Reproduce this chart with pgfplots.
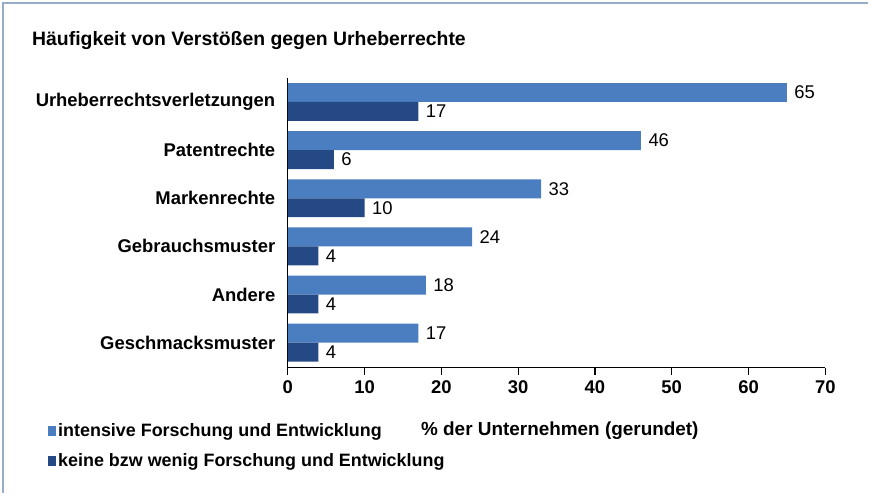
\documentclass[border=0pt]{standalone}
\usepackage{pgfplots}
\pgfplotsset{compat=1.18}
\usepackage{fontspec}
\setmainfont{Liberation Sans}
\definecolor{lightb}{RGB}{74,126,193}
\definecolor{darkb}{RGB}{37,73,132}
\definecolor{framec}{RGB}{150,172,200}
\pgfplotsset{/pgf/number format/assume math mode=true}
\begin{document}
\begin{tikzpicture}[x=1bp,y=1bp]
\path (0,0) rectangle (869,493);
\draw[framec, line width=1.5bp] (3,0) -- (3,490) -- (869,490);
\node[anchor=west, inner sep=0pt, font=\bfseries\fontsize{19.5}{22}\selectfont] at (32,452) {Häufigkeit von Verstößen gegen Urheberrechte};
\begin{axis}[
  at={(288bp,125bp)}, anchor=south west,
  scale only axis, width=538bp, height=290bp,
  xmin=0, xmax=70, ymin=-0.52, ymax=5.5,
  axis x line*=bottom, axis y line*=left,
  axis line style={black, line width=1.2bp, -},
  xtick={0,10,...,70}, ytick={0,...,5},
  yticklabels={Geschmacksmuster, Andere, Gebrauchsmuster, Markenrechte, Patentrechte, Urheberrechtsverletzungen},
  ytick style={draw=none},
  xtick style={black, line width=1.2bp}, tick align=outside, major tick length=7bp,
  tick label style={font=\bfseries\fontsize{18.5}{21}\selectfont},
  xticklabel style={yshift=-2bp},
  yticklabel style={xshift=-2bp},
  xbar, bar width=19bp,
  nodes near coords,
  nodes near coords style={font=\fontsize{18.5}{21}\selectfont, black, anchor=west, xshift=4bp},
  xlabel={\% der Unternehmen (gerundet)},
  xlabel style={at={(axis description cs:0.2416,-0.217)}, anchor=west, font=\bfseries\fontsize{19}{22}\selectfont},
  legend style={at={(axis description cs:-0.446,-0.185)}, anchor=north west, draw=none, fill=none,
    font=\bfseries\fontsize{18}{21}\selectfont, row sep=12bp, inner sep=0pt, cells={anchor=west}},
  clip=false,
]
\addplot[fill=lightb, draw=none, bar shift=9.5bp, legend image code/.code={\fill[lightb] (0bp,-5bp) rectangle (8bp,5bp);}]
  coordinates {(65,5) (46,4) (33,3) (24,2) (18,1) (17,0)};
\addlegendentry{intensive Forschung und Entwicklung}
\addplot[fill=darkb, draw=none, bar shift=-9.5bp, legend image code/.code={\fill[darkb] (0bp,-5bp) rectangle (8bp,5bp);}]
  coordinates {(17,5) (6,4) (10,3) (4,2) (4,1) (4,0)};
\addlegendentry{keine bzw wenig Forschung und Entwicklung}
\end{axis}
\end{tikzpicture}
\end{document}
